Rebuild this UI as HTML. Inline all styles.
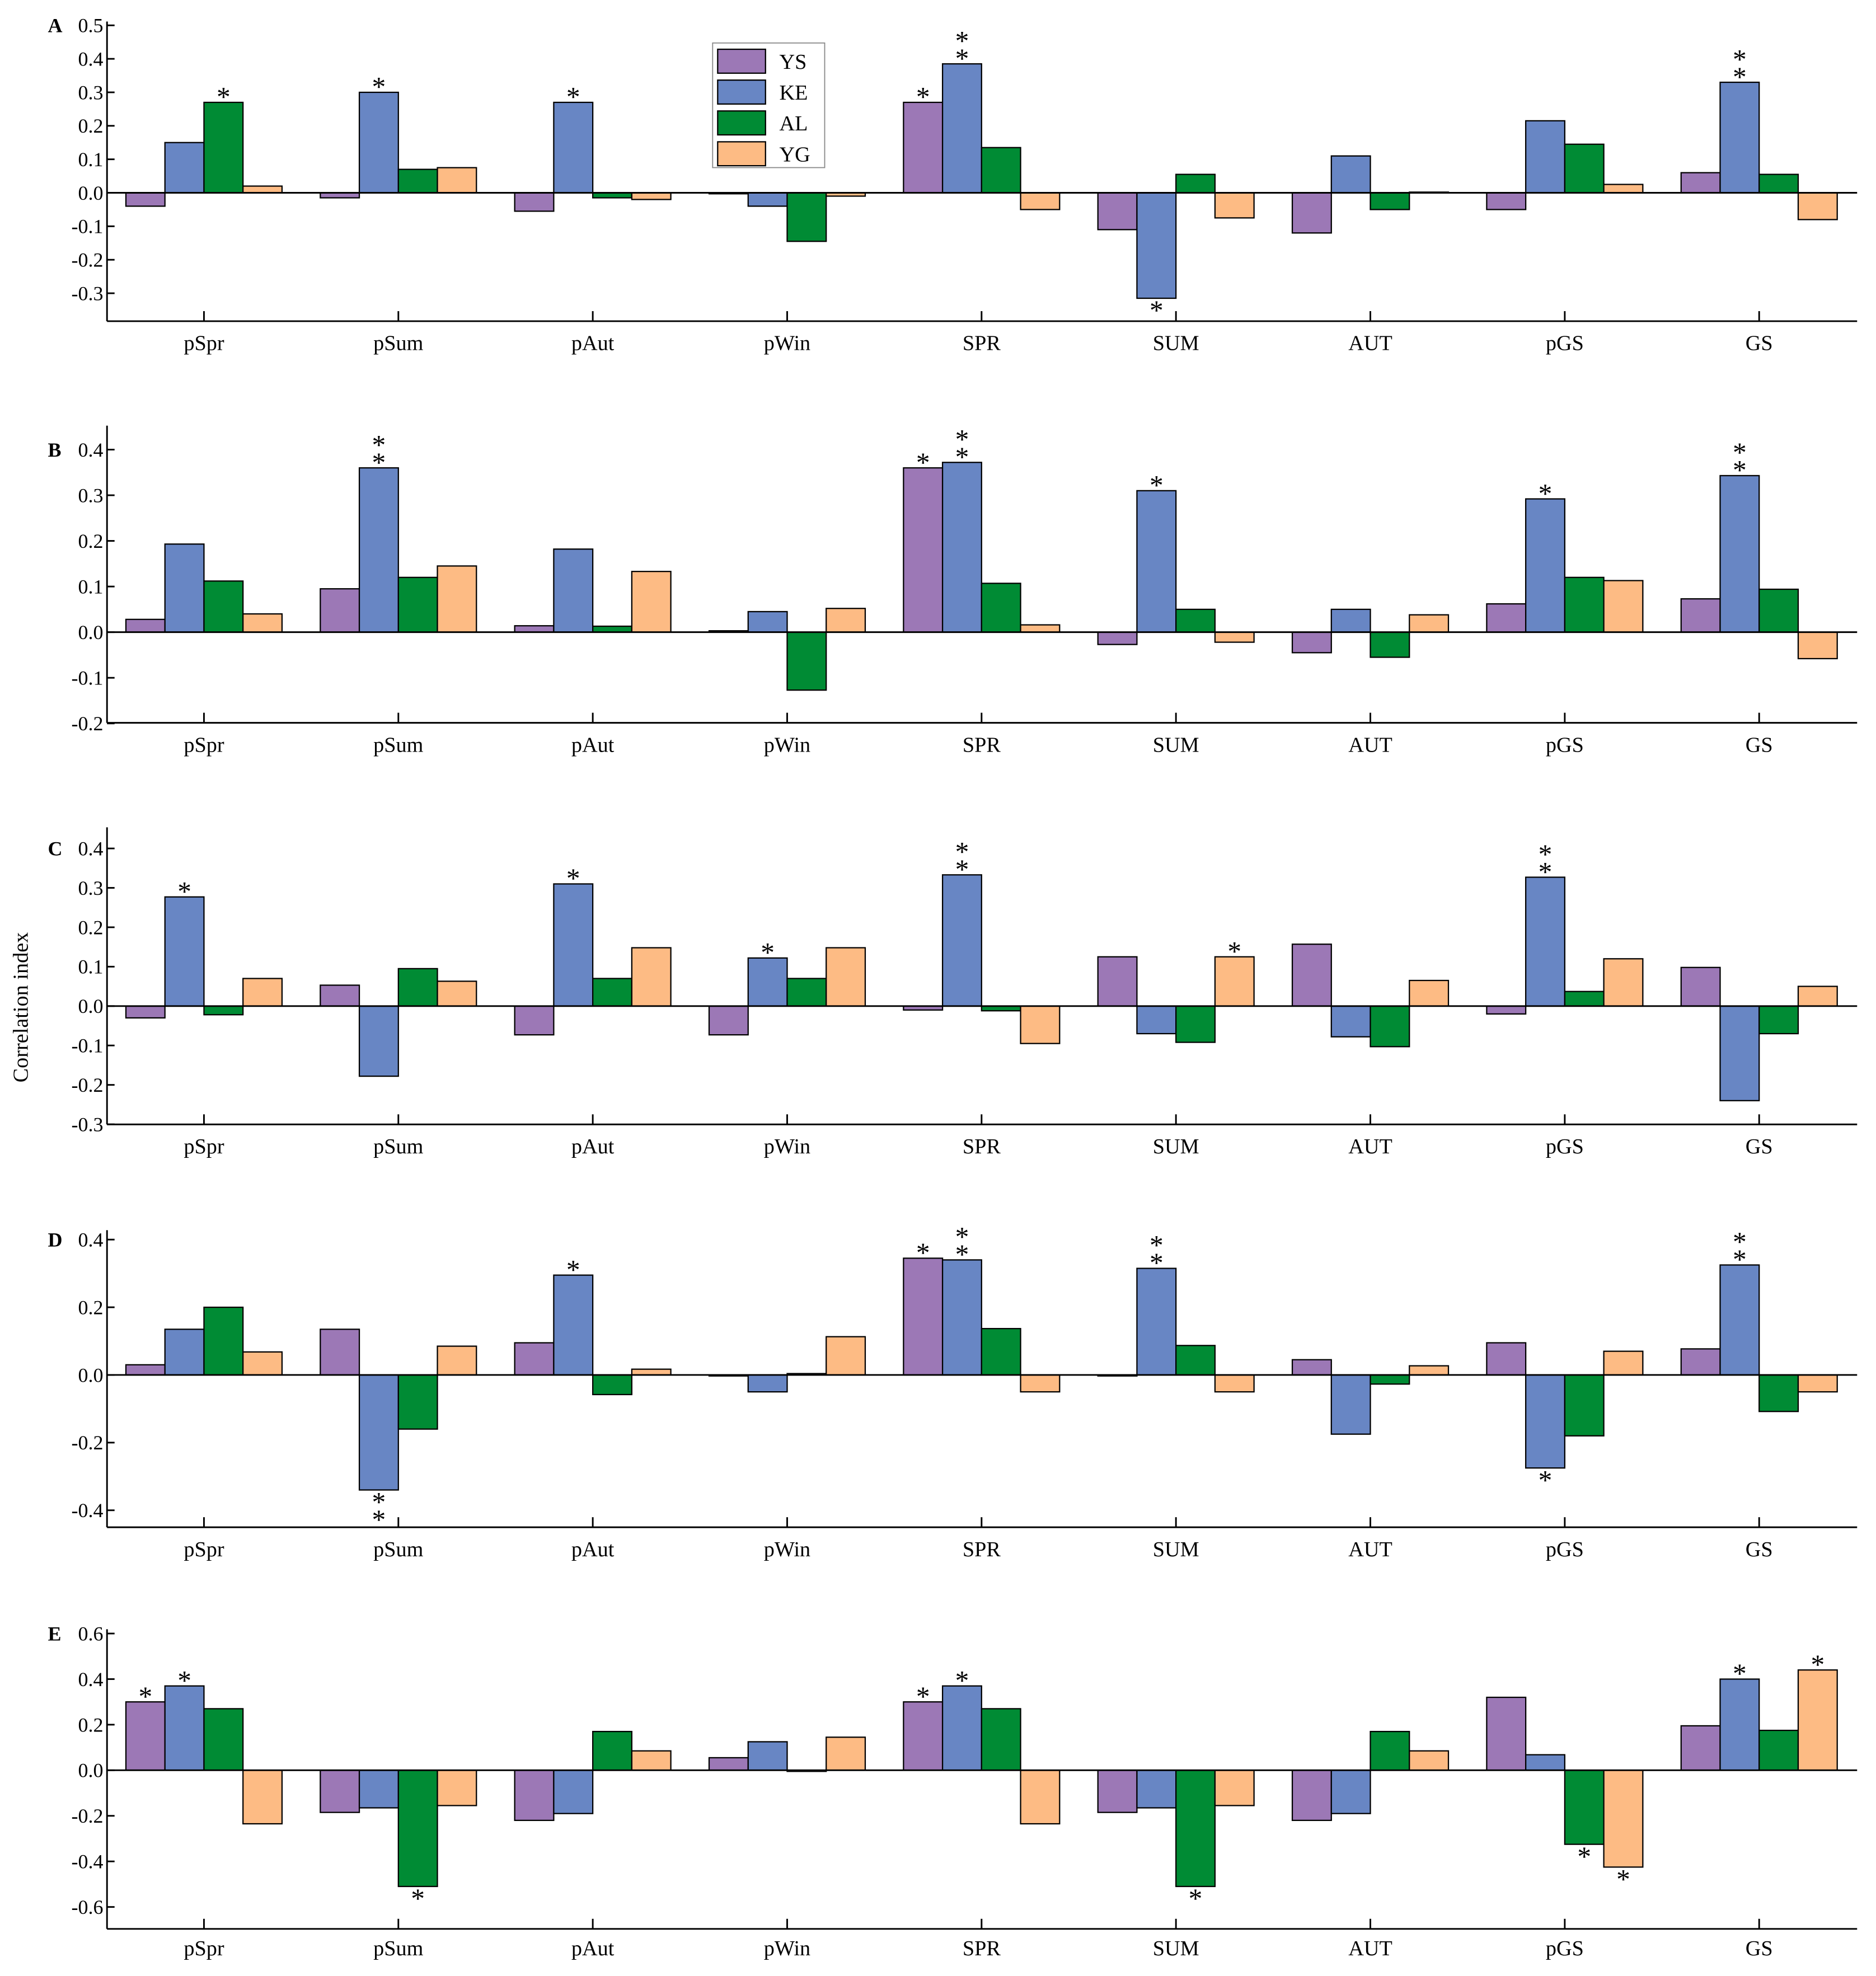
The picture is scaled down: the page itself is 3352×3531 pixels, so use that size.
<!DOCTYPE html>
<html><head><meta charset="utf-8"><style>
html,body{margin:0;padding:0;background:#fff;}
svg{display:block;font-family:"Liberation Serif",serif;}
</style></head><body>
<svg id="chart" width="3352" height="3531" viewBox="0 0 1490 1569.3" xmlns="http://www.w3.org/2000/svg">
<rect x="0" y="0" width="1490" height="1570" fill="#fff"/>
<text x="22" y="800" font-size="17" text-anchor="middle" transform="rotate(-90 22 800)">Correlation index</text>
<g id="legend"></g>
</svg>
<script>
const categories = ["pSpr","pSum","pAut","pWin","SPR","SUM","AUT","pGS","GS"];
const seriesNames = ["YS","KE","AL","YG"];
const colors = ["#9c78b6","#6886c4","#008b34","#fdbb84"];
const panelLetters = ["A","B","C","D","E"];

const valuesA = [
 [-0.04,0.15,0.27,0.02],[-0.015,0.30,0.07,0.075],[-0.055,0.27,-0.015,-0.02],[-0.003,-0.04,-0.145,-0.01],
 [0.27,0.385,0.135,-0.05],[-0.11,-0.315,0.055,-0.075],[-0.12,0.11,-0.05,0.002],[-0.05,0.215,0.145,0.025],[0.06,0.33,0.055,-0.08]];
const sigA = [["","","*",""],["","*","",""],["","*","",""],["","","",""],["*","**","",""],["","*","",""],["","","",""],["","","",""],["","**","",""]];
const valuesB = [
 [0.028,0.193,0.112,0.04],[0.095,0.36,0.12,0.145],[0.014,0.182,0.013,0.133],[0.003,0.045,-0.127,0.052],
 [0.36,0.372,0.107,0.016],[-0.027,0.31,0.05,-0.022],[-0.045,0.05,-0.055,0.038],[0.062,0.292,0.12,0.113],[0.073,0.343,0.094,-0.058]];
const sigB = [["","","",""],["","**","",""],["","","",""],["","","",""],["*","**","",""],["","*","",""],["","","",""],["","*","",""],["","**","",""]];
const valuesC = [
 [-0.03,0.277,-0.022,0.07],[0.053,-0.178,0.095,0.063],[-0.073,0.31,0.07,0.148],[-0.073,0.122,0.07,0.148],
 [-0.01,0.333,-0.012,-0.095],[0.125,-0.07,-0.092,0.125],[0.157,-0.078,-0.103,0.065],[-0.02,0.327,0.037,0.12],[0.098,-0.24,-0.07,0.05]];
const sigC = [["","*","",""],["","","",""],["","*","",""],["","*","",""],["","**","",""],["","","","*"],["","","",""],["","**","",""],["","","",""]];
const valuesD = [
 [0.03,0.135,0.2,0.068],[0.135,-0.34,-0.16,0.085],[0.095,0.295,-0.058,0.017],[-0.003,-0.05,0.004,0.113],
 [0.345,0.34,0.137,-0.05],[-0.003,0.315,0.087,-0.05],[0.045,-0.175,-0.027,0.027],[0.095,-0.275,-0.18,0.07],[0.077,0.325,-0.108,-0.05]];
const sigD = [["","","",""],["","**","",""],["","*","",""],["","","",""],["*","**","",""],["","**","",""],["","","",""],["","*","",""],["","**","",""]];
const valuesE = [
 [0.30,0.37,0.27,-0.235],[-0.185,-0.165,-0.51,-0.155],[-0.22,-0.19,0.17,0.085],[0.055,0.125,-0.005,0.145],
 [0.30,0.37,0.27,-0.235],[-0.185,-0.165,-0.51,-0.155],[-0.22,-0.19,0.17,0.085],[0.32,0.068,-0.325,-0.425],[0.195,0.40,0.175,0.44]];
const sigE = [["*","*","",""],["","","*",""],["","","",""],["","","",""],["*","*","",""],["","","*",""],["","","",""],["","","*","*"],["","*","","*"]];

const ticksA = ["0.5","0.4","0.3","0.2","0.1","0.0","-0.1","-0.2","-0.3"];
const ticksB = ["0.4","0.3","0.2","0.1","0.0","-0.1","-0.2"];
const ticksC = ["0.4","0.3","0.2","0.1","0.0","-0.1","-0.2","-0.3"];
const ticksD = ["0.4","0.2","0.0","-0.2","-0.4"];
const ticksE = ["0.6","0.4","0.2","0.0","-0.2","-0.4","-0.6"];

// layout (not data): zero line y, pixels per unit, axis top/bottom, label y
const panels = [
 {vals:valuesA,sig:sigA,ticks:ticksA,zero:153,ppu:266,top:17,bottom:255,label:278},
 {vals:valuesB,sig:sigB,ticks:ticksB,zero:502,ppu:362.5,top:338,bottom:574,label:597},
 {vals:valuesC,sig:sigC,ticks:ticksC,zero:799,ppu:313,top:657,bottom:893,label:916},
 {vals:valuesD,sig:sigD,ticks:ticksD,zero:1092,ppu:268.75,top:977,bottom:1213,label:1236},
 {vals:valuesE,sig:sigE,ticks:ticksE,zero:1406,ppu:181,top:1294,bottom:1532,label:1553}
];
const svg = document.getElementById('chart');
const NS = "http://www.w3.org/2000/svg";
const X0 = 85, X1 = 1475, C0 = 162, CSTEP = 154.4, BW = 31;
function el(tag, attrs, parent){const e=document.createElementNS(NS,tag);for(const k in attrs)e.setAttribute(k,attrs[k]);(parent||svg).appendChild(e);return e;}
function xCat(i){return C0 + i*CSTEP;}

panels.forEach((p,pi)=>{
  const g = el('g',{});
  
  
  const y = v => p.zero - v*p.ppu;
  // bars
  p.vals.forEach((row,ci)=>{
    row.forEach((v,si)=>{
      const x = xCat(ci) - 2*BW + si*BW;
      const y1 = Math.min(y(v),p.zero), h = Math.abs(y(v)-p.zero);
      const r = el('rect',{x:x,y:y1,width:BW,height:Math.max(h,0.6),fill:colors[si],stroke:'#000','stroke-width':1},g);
      
      
      const s = p.sig[ci][si];
      if(s){
        const n = s.length;
        for(let k=0;k<n;k++){
          let ty;
          if(v>=0) ty = y(v) - 1 - (n-1-k)*14 + 4;
          else ty = y(v) + 17 + k*14;
          const t = el('text',{x:x+BW/2,y:ty,'font-size':22,'text-anchor':'middle'},g);
          
          
          t.textContent='*';
        }
      }
    });
  });
  // axes
  el('line',{x1:X0,y1:p.zero,x2:X1,y2:p.zero,stroke:'#000','stroke-width':1.3},g);
  const ya = el('line',{x1:X0,y1:p.top,x2:X0,y2:p.bottom,stroke:'#000','stroke-width':1.3},g);
  
  
  const xa = el('line',{x1:X0,y1:p.bottom,x2:X1,y2:p.bottom,stroke:'#000','stroke-width':1.3},g);
  
  
  p.ticks.forEach(tk=>{
    const v = parseFloat(tk), ty = y(v);
    el('line',{x1:X0,y1:ty,x2:X0+6,y2:ty,stroke:'#000','stroke-width':1.3},g);
    const t = el('text',{x:X0-3,y:ty+5.5,'font-size':16,'text-anchor':'end'},g);
    
    
    t.textContent = tk;
  });
  categories.forEach((c,ci)=>{
    el('line',{x1:xCat(ci),y1:p.bottom,x2:xCat(ci),y2:p.bottom-8,stroke:'#000','stroke-width':1.3},g);
    const t = el('text',{x:xCat(ci),y:p.label,'font-size':17,'text-anchor':'middle'},g);
    
    
    t.textContent = c;
  });
  const L = el('text',{x:38,y:y(parseFloat(p.ticks[0]))+5.5,'font-size':16,'font-weight':'bold'},g);
  
  
  L.textContent = panelLetters[pi];
});
// legend
const lg = document.getElementById('legend');
el('rect',{x:566,y:34,width:89,height:99,fill:'#fff',stroke:'#888','stroke-width':0.8},lg);
seriesNames.forEach((n,i)=>{
  const yy = 39 + i*24.5;
  const r = el('rect',{x:570,y:yy,width:38,height:19,fill:colors[i],stroke:'#000','stroke-width':1},lg);
  
  
  const t = el('text',{x:619,y:yy+15.5,'font-size':17},lg);
  
  
  t.textContent = n;
});
</script>
</body></html>
